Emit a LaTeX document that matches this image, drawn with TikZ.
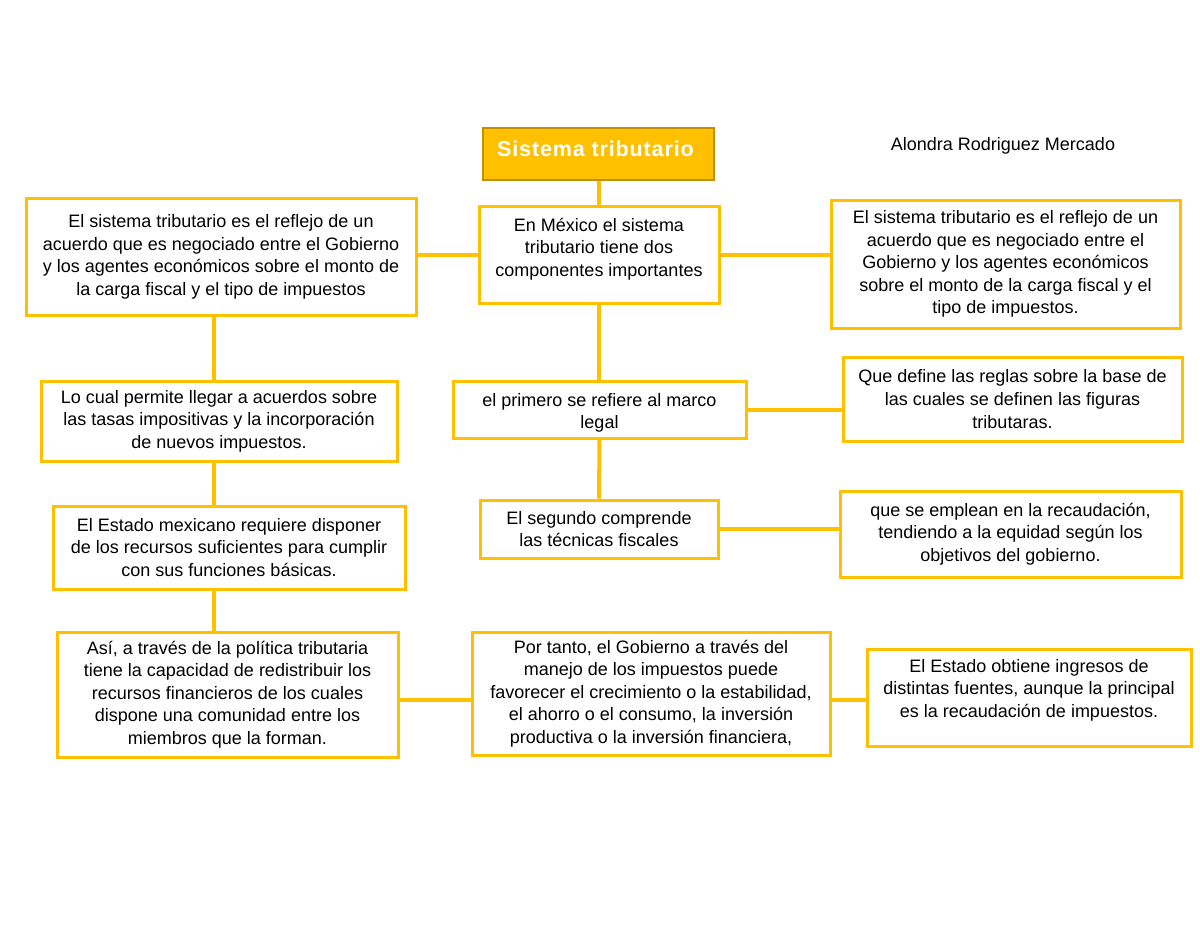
\documentclass[tikz,border=0pt]{standalone}
\usepackage{fontspec}
\setmainfont{Liberation Sans}
\begin{document}
\begin{tikzpicture}[x=1pt,y=1pt,
  box/.style={draw=gold, line width=3pt, fill=white, align=center, inner sep=0pt,
    font=\fontsize{18}{22.6}\selectfont},
  txt/.style={align=center, inner sep=0pt, font=\fontsize{18}{22.6}\selectfont},
  conn/.style={draw=gold, line width=4pt},
  titlebox/.style={draw=golddark, line width=1.5pt, fill=gold}]
\definecolor{gold}{HTML}{FFC000}
\definecolor{golddark}{HTML}{BF9000}
\useasboundingbox[fill=white] (0,0) rectangle (1200,-927);

% title
\node[titlebox, minimum width=231, minimum height=52] (title) at (598.5,-154) {};
\node[anchor=west, inner sep=0pt, text=white, font=\bfseries\fontsize{21.5}{24}\selectfont\addfontfeature{LetterSpace=4}] (ttext) at (497,-149) {Sistema tributario};

\node[font=\fontsize{18}{22}\selectfont, inner sep=0pt] (author) at (1003,-146) {Alondra Rodriguez Mercado};

\coordinate (vl) at (214,0);
\coordinate (hl) at (0,-700);

\node[box, minimum width=240, minimum height=97] (c1) at (599,-254.5) {};
\node[txt] (c1t) at (599,-249) {En México el sistema\\tributario tiene dos\\componentes importantes};
\node[box, minimum width=390, minimum height=117] (l1) at (221,-257)
  {El sistema tributario es el reflejo de un\\acuerdo que es negociado entre el Gobierno\\y los agentes económicos sobre el monto de\\la carga fiscal y el tipo de impuestos};
\node[box, minimum width=349, minimum height=128] (r1) at (1005.5,-264)
  {El sistema tributario es el reflejo de un\\acuerdo que es negociado entre el\\Gobierno y los agentes económicos\\sobre el monto de la carga fiscal y el\\tipo de impuestos.};
\node[box, minimum width=356, minimum height=80] (l2) at (219,-421)
  {Lo cual permite llegar a acuerdos sobre\\las tasas impositivas y la incorporación\\de nuevos impuestos.};
\node[box, minimum width=293, minimum height=57] (c2) at (599.5,-409.5) {};
\node[txt] (c2t) at (599.5,-413) {el primero se refiere al marco\\legal};
\node[box, minimum width=339, minimum height=84] (r2) at (1012.5,-399)
  {Que define las reglas sobre la base de\\las cuales se definen las figuras\\tributaras.};
\node[box, minimum width=352, minimum height=83] (l3) at (229,-547.5)
  {El Estado mexicano requiere disponer\\de los recursos suficientes para cumplir\\con sus funciones básicas.};
\node[box, minimum width=238, minimum height=58] (c3) at (599,-529)
  {El segundo comprende\\las técnicas fiscales};
\node[box, minimum width=341, minimum height=86] (r3) at (1010.5,-534)
  {que se emplean en la recaudación,\\tendiendo a la equidad según los\\objetivos del gobierno.};
\node[box, minimum width=341, minimum height=125] (l4) at (227.5,-694.5)
  {Así, a través de la política tributaria\\tiene la capacidad de redistribuir los\\recursos financieros de los cuales\\dispone una comunidad entre los\\miembros que la forman.};
\node[box, minimum width=358, minimum height=123] (c4) at (651,-693.5)
  {Por tanto, el Gobierno a través del\\manejo de los impuestos puede\\favorecer el crecimiento o la estabilidad,\\el ahorro o el consumo, la inversión\\productiva o la inversión financiera,};
\node[box, minimum width=324, minimum height=97] (r4) at (1029,-697.5) {};
\node[txt] (r4t) at (1029,-690) {El Estado obtiene ingresos de\\distintas fuentes, aunque la principal\\es la recaudación de impuestos.};

\draw[conn] (title.south) -- (title.south |- c1.north);
\draw[conn] (c1.west) -- (c1.west -| l1.east);
\draw[conn] (c1.east) -- (c1.east -| r1.west);
\draw[conn] (c1.south) -- (c2.north -| c1.south);
\draw[conn] (l1.south -| vl) -- (l2.north -| vl);
\draw[conn] (l2.south -| vl) -- (l3.north -| vl);
\draw[conn] (l3.south -| vl) -- (l4.north -| vl);
\draw[conn] (c2.east) -- (c2.east -| r2.west);
\draw[conn] (c2.south) -- (c3.north);
\draw[conn] (c3.east) -- (c3.east -| r3.west);
\draw[conn] (l4.east |- hl) -- (c4.west |- hl);
\draw[conn] (c4.east |- hl) -- (r4.west |- hl);
\end{tikzpicture}
\end{document}
